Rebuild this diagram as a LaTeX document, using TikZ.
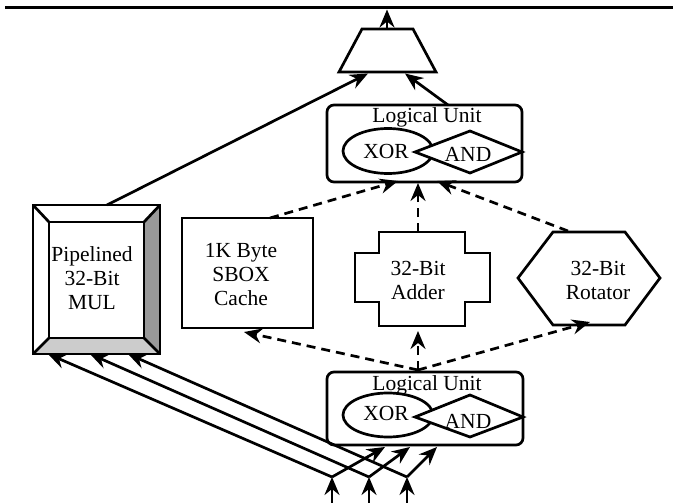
\documentclass[tikz,border=0pt]{standalone}
\usepackage{fontspec}
\setmainfont{Liberation Serif}
\usetikzlibrary{arrows.meta,shapes.geometric}
\begin{document}
\begin{tikzpicture}[x=1pt,y=-1pt, line width=2.7pt, line join=miter,
  conn/.style={-{Stealth[length=18pt,width=15pt,inset=6pt]}},
  dconn/.style={conn, dash pattern=on 9pt off 6pt},
  lbl/.style={font=\fontsize{21.5}{24}\selectfont, align=center, inner sep=0pt},
  box/.style={draw, rounded corners=7pt, inner sep=0pt},
  oval/.style={draw, ellipse, inner sep=0pt},
]
\useasboundingbox (0,0) rectangle (673,503);

% bus
\coordinate (busL) at (5,8);
\coordinate (busR) at (673,8);
\coordinate (busIn) at (387,9.5);
\draw[line width=3pt] (busL) -- (busR);

% mux trapezoid
\coordinate (muxTL) at (362,29);
\coordinate (muxTR) at (413,29);
\coordinate (muxBR) at (436,72);
\coordinate (muxBL) at (339,72);
\coordinate (muxOut) at (387,29);
\coordinate (muxInL) at (368,73.5);
\coordinate (muxInR) at (405,73.5);
\draw (muxTL) -- (muxTR) -- (muxBR) -- (muxBL) -- cycle;
\draw[conn] (muxOut) -- (busIn);

% upper logical unit
\node[box, minimum width=195pt, minimum height=77pt] (lu1) at (424.5,143.5) {};
\node[lbl] (lu1t) at (427,117) {Logical Unit};
\node[oval, minimum width=90pt, minimum height=45pt] (x1) at (388,151) {};
\node[lbl] (x1t) at (386,151) {XOR};
\coordinate (a1L) at (415,152);
\coordinate (a1T) at (470,131);
\coordinate (a1R) at (522,152);
\coordinate (a1B) at (470,173);
\filldraw[fill=white] (a1L) -- (a1T) -- (a1R) -- (a1B) -- cycle;
\node[lbl] (a1t) at (468,154) {AND};
\coordinate (lu1Out) at (448,105);
\coordinate (lu1InL) at (398,181);
\coordinate (lu1InM) at (418,183);
\coordinate (lu1InR) at (437,181);

% lower logical unit
\node[box, minimum width=196pt, minimum height=73pt] (lu2) at (425,408.5) {};
\node[lbl] (lu2t) at (427,385) {Logical Unit};
\node[oval, minimum width=90pt, minimum height=44pt] (x2) at (388,415) {};
\node[lbl] (x2t) at (386,413) {XOR};
\coordinate (a2L) at (415,417);
\coordinate (a2T) at (470,395);
\coordinate (a2R) at (523,417);
\coordinate (a2B) at (470,437);
\filldraw[fill=white] (a2L) -- (a2T) -- (a2R) -- (a2B) -- cycle;
\node[lbl] (a2t) at (468,421) {AND};
\coordinate (lu2Out) at (418,370);
\coordinate (lu2In1) at (385,447);
\coordinate (lu2In2) at (410,447);
\coordinate (lu2In3) at (437,447);

% MUL bevel box
\fill[black!40] (160,205) -- (160,354) -- (144,338) -- (144,222) -- cycle;
\fill[black!20] (33,354) -- (160,354) -- (144,338) -- (49,338) -- cycle;
\draw (33,205) rectangle (160,354);
\draw (49,222) rectangle (144,338);
\draw (33,205) -- (49,222) (160,205) -- (144,222) (33,354) -- (49,338) (160,354) -- (144,338);
\node[lbl] (mul) at (92,278) {Pipelined\\32-Bit\\MUL};
\coordinate (mulOut) at (107,205);
\coordinate (mulIn1) at (48,354);
\coordinate (mulIn2) at (90,354);
\coordinate (mulIn3) at (128,354);

% SBOX
\draw (182,218) rectangle (313,328);
\node[lbl] (sbox) at (241,275) {1K Byte\\SBOX\\Cache};
\coordinate (sboxOut) at (270,218);
\coordinate (sboxIn) at (244,332);

% adder
\draw (379,232) -- (465,232) -- (465,253) -- (490,253) -- (490,302) -- (465,302) -- (465,326)
  -- (379,326) -- (379,302) -- (355,302) -- (355,253) -- (379,253) -- cycle;
\node[lbl] (add) at (418,280) {32-Bit\\Adder};
\coordinate (addOut) at (418,232);
\coordinate (addIn) at (418,331);

% rotator
\draw (518,278) -- (553,232) -- (625,232) -- (660,278) -- (625,325) -- (553,325) -- cycle;
\node[lbl] (rot) at (598,280) {32-Bit\\Rotator};
\coordinate (rotOut) at (568,231);
\coordinate (rotIn) at (590,322);

% connectors
\draw[conn] (mulOut) -- (muxInL);
\draw[conn] (lu1Out) -- (muxInR);
\draw[dconn] (sboxOut) -- (lu1InL);
\draw[dconn] (addOut) -- (lu1InM);
\draw[dconn] (rotOut) -- (lu1InR);
\draw[dconn] (lu2Out) -- (addIn);
\draw[dconn] (lu2Out) -- (sboxIn);
\draw[dconn] (lu2Out) -- (rotIn);

% inputs
\coordinate (in1) at (332,503);
\coordinate (in2) at (369,503);
\coordinate (in3) at (407,503);
\coordinate (j1) at (332,477);
\coordinate (j2) at (369,477);
\coordinate (j3) at (407,477);
\draw[conn] (in1) -- (j1);
\draw[conn] (in2) -- (j2);
\draw[conn] (in3) -- (j3);
\draw[conn] (j1) -- (mulIn1);
\draw[conn] (j2) -- (mulIn2);
\draw[conn] (j3) -- (mulIn3);
\draw[conn] (j1) -- (lu2In1);
\draw[conn] (j2) -- (lu2In2);
\draw[conn] (j3) -- (lu2In3);
\end{tikzpicture}
\end{document}
